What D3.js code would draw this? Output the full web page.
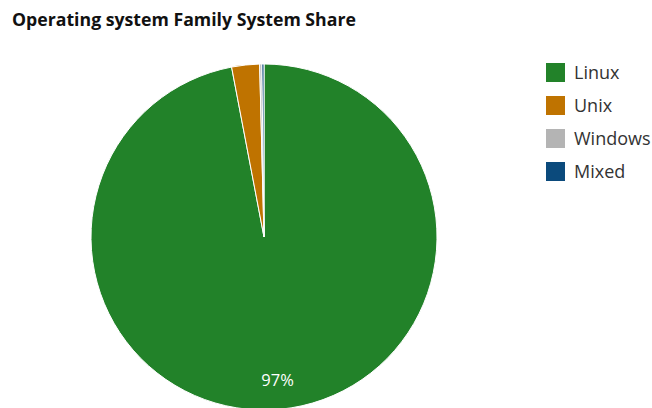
<!DOCTYPE html>
<html>
<head>
<meta charset="utf-8">
<script src="https://cdn.jsdelivr.net/npm/d3@7"></script>
<style>
body { margin: 0; background: #fff; }
svg { display: block; font-family: "Open Sans", "DejaVu Sans", sans-serif; }
</style>
</head>
<body>
<div id="chart"></div>
<script>
var families = ["Linux", "Unix", "Windows", "Mixed"];
var systems = [485, 13, 1, 1];
var colors = ["#228229", "#bf7300", "#b4b4b4", "#0b4a7c"];

var width = 652, height = 408;
var cx = 264, cy = 237, radius = 173;

var svg = d3.select("#chart").append("svg")
    .attr("width", width)
    .attr("height", height);

// title
svg.append("text")
    .attr("x", 12)
    .attr("y", 26)
    .style("font-size", "17.7px")
    .style("font-weight", "bold")
    .style("fill", "#111")
    .text("Operating system Family System Share");

var data = families.map(function (d, i) {
    return { family: d, value: systems[i] };
});
var total = d3.sum(systems);

var color = d3.scaleOrdinal()
    .domain(families)
    .range(colors);

var pie = d3.pie()
    .sort(null)
    .value(function (d) { return d.value; });

var arc = d3.arc()
    .innerRadius(0)
    .outerRadius(radius);

var labelArc = d3.arc()
    .innerRadius(radius * 0.83)
    .outerRadius(radius * 0.83);

var g = svg.append("g")
    .attr("transform", "translate(" + cx + "," + cy + ")");

var arcs = pie(data);

g.selectAll(".slice")
    .data(arcs)
    .enter().append("path")
    .attr("class", "slice")
    .attr("d", arc)
    .attr("fill", function (d) { return color(d.data.family); })
    .attr("stroke", "#fff")
    .attr("stroke-width", 1);

// percentage label for big slices only
g.selectAll(".pct")
    .data(arcs.filter(function (d) { return d.data.value / total > 0.05; }))
    .enter().append("text")
    .attr("class", "pct")
    .attr("transform", function (d) { return "translate(" + labelArc.centroid(d) + ")"; })
    .attr("dy", "0.35em")
    .style("text-anchor", "middle")
    .style("font-size", "16.5px")
    .style("fill", "#fff")
    .text(function (d) { return Math.round(d.data.value / total * 100) + "%"; });

// legend
var legend = svg.selectAll(".legend")
    .data(families)
    .enter().append("g")
    .attr("class", "legend")
    .attr("transform", function (d, i) { return "translate(546," + (63 + i * 33) + ")"; });

legend.append("rect")
    .attr("width", 19)
    .attr("height", 19)
    .attr("fill", function (d) { return color(d); });

legend.append("text")
    .attr("x", 28)
    .attr("y", 10)
    .attr("dy", "0.35em")
    .style("font-size", "18px")
    .style("fill", "#333")
    .text(function (d) { return d; });
</script>
</body>
</html>
